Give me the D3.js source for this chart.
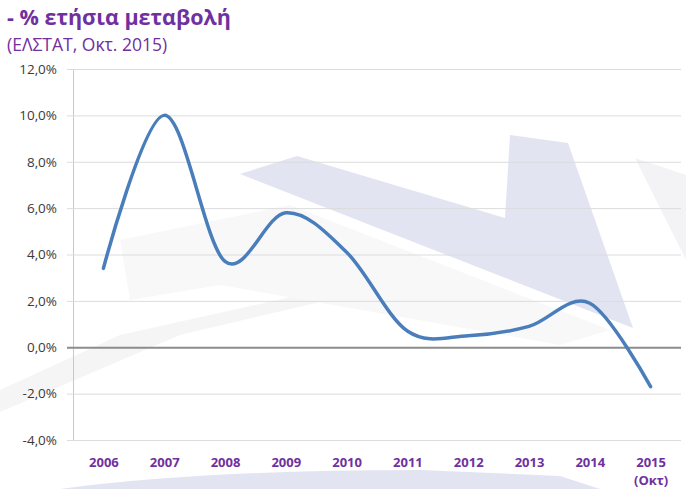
<!DOCTYPE html>
<html>
<head>
<meta charset="utf-8">
<script src="https://cdn.jsdelivr.net/npm/d3@7"></script>
<style>
  body { margin: 0; background: #fff; }
  svg { display: block; }
  .title { font-family: 'Open Sans', sans-serif; font-weight: 700; fill: #7030a0; }
  .subtitle { font-family: 'Open Sans', sans-serif; fill: #7030a0; }
  .y-axis text { font-family: 'Open Sans', sans-serif; font-size: 13.5px; fill: #3a3a3a; }
  .x-axis text { font-family: 'Open Sans', sans-serif; font-size: 13px; font-weight: 700; fill: #7030a0; }
</style>
</head>
<body>
<svg width="686" height="489"></svg>
<script>
// data
const years = ['2006', '2007', '2008', '2009', '2010', '2011', '2012', '2013', '2014', '2015']
const change = [3.4, 10.0, 3.7, 5.8, 4.1, 0.7, 0.5, 0.9, 1.9, -1.7]
const yTicks = [-4, -2, 0, 2, 4, 6, 8, 10, 12]

const svg = d3.select('svg')
const w = +svg.attr('width')
const h = +svg.attr('height')

const margin = {top: 69, right: 5, bottom: 49, left: 73}

const x = d3.scalePoint()
  .domain(years)
  .range([margin.left, w - margin.right])
  .padding(0.5)

const y = d3.scaleLinear()
  .domain([-4, 12])
  .range([h - margin.bottom, margin.top])

// faint watermark behind the plot
const bg = svg.append('g')
bg.append('path')
  .attr('d', 'M0,390 L120,335 L300,295 L320,302 L180,335 L0,412 Z')
  .attr('fill', '#f5f5f6')
bg.append('path')
  .attr('d', 'M120,240 L290,205 L610,330 L560,345 L220,285 L130,300 Z')
  .attr('fill', '#f8f8f9')
bg.append('path')
  .attr('d', 'M240,174 L297,156 L505,218 L510,135 L568,143 L633,328 Z')
  .attr('fill', '#e2e4f1')
bg.append('path')
  .attr('d', 'M635,158 L686,175 L686,260 Z')
  .attr('fill', '#f3f3f6')
bg.append('path')
  .attr('d', 'M60,489 Q200,470 420,470 L560,476 L600,489 Z')
  .attr('fill', '#e2e4f1')

// title
svg.append('text').attr('class', 'title')
  .attr('x', 7).attr('y', 25).attr('font-size', 21.5)
  .text('- % ετήσια μεταβολή')
svg.append('text').attr('class', 'subtitle')
  .attr('x', 7).attr('y', 51).attr('font-size', 17.5)
  .text('(ΕΛΣΤΑΤ, Οκτ. 2015)')

// y axis with gridlines
const yAxis = d3.axisLeft(y)
  .tickValues(yTicks)
  .tickSize(-(w - margin.right - margin.left))
  .tickPadding(16)
  .tickFormat(d => d3.format('.1f')(d).replace('.', ',').replace('−', '-') + '%')

const yAxisG = svg.append('g')
  .attr('class', 'y-axis')
  .attr('transform', `translate(${margin.left},0)`)
  .call(yAxis)
yAxisG.select('.domain').attr('stroke', '#c8c8c8')
yAxisG.selectAll('.tick line')
  .attr('x1', -6)
  .attr('stroke', d => d === 0 ? '#8c8c8c' : '#dcdcdc')
  .attr('stroke-width', d => d === 0 ? 2 : 1)

// x axis labels
const xAxisG = svg.append('g')
  .attr('class', 'x-axis')
  .attr('transform', `translate(0,${h - margin.bottom})`)
  .call(d3.axisBottom(x).tickSize(0).tickPadding(18))
xAxisG.select('.domain').remove()
xAxisG.selectAll('.tick').filter(d => d === '2015')
  .append('text')
  .attr('y', 36).attr('dy', '0.71em')
  .attr('text-anchor', 'middle')
  .text('(Οκτ)')

// smoothed line
const line = d3.line()
  .x((d, i) => x(years[i]))
  .y(d => y(d))
  .curve(d3.curveCardinal.tension(0))

svg.append('path')
  .datum(change)
  .attr('fill', 'none')
  .attr('stroke', '#4a7ebb')
  .attr('stroke-width', 3.5)
  .attr('stroke-linecap', 'round')
  .attr('d', line)
</script>
</body>
</html>
